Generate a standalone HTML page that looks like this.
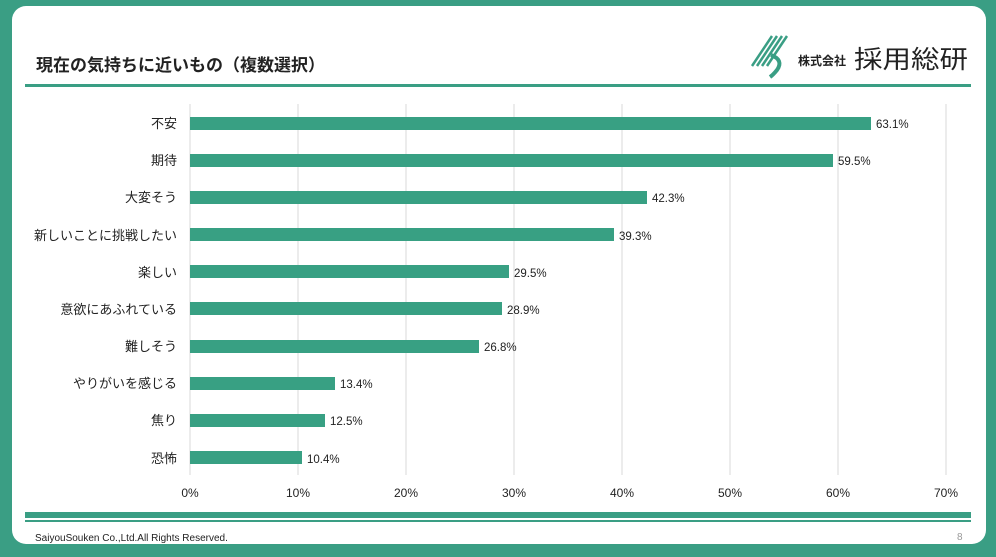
<!DOCTYPE html>
<html><head><meta charset="utf-8"><style>
body{margin:0;width:996px;height:557px;background:#3a9e84;overflow:hidden;font-family:"Liberation Sans","Noto Sans CJK JP",sans-serif;}
.card{position:absolute;left:12px;top:6px;width:974px;height:538px;background:#fff;border-radius:14px;}
</style></head><body>
<div class="card"></div>
<svg width="996" height="557" style="position:absolute;left:0;top:0" font-family="Liberation Sans, Noto Sans CJK JP, sans-serif">
<text x="36" y="71" font-size="17" font-weight="bold" fill="#222">現在の気持ちに近いもの（複数選択）</text>
<rect x="25" y="84" width="946" height="3" fill="#3a9e84"/>
<g stroke="#3a9e84" stroke-width="2.5">
<line x1="752" y1="66" x2="772" y2="36"/><line x1="757" y1="66" x2="777" y2="36"/><line x1="762" y1="66" x2="782" y2="36"/><line x1="767" y1="66" x2="787" y2="36"/>
</g>
<path d="M771 55 Q784 60 777 70 Q773 75 770 77" stroke="#3a9e84" stroke-width="4" fill="none"/>
<text x="798" y="65" font-size="12" font-weight="bold" fill="#222">株式会社</text>
<text x="854" y="68" font-size="25" fill="#222" textLength="114" lengthAdjust="spacingAndGlyphs">採用総研</text>
<g stroke="#d9d9d9" stroke-width="1">
<line x1="190" y1="104" x2="190" y2="475"/><line x1="298" y1="104" x2="298" y2="475"/><line x1="406" y1="104" x2="406" y2="475"/><line x1="514" y1="104" x2="514" y2="475"/><line x1="622" y1="104" x2="622" y2="475"/><line x1="730" y1="104" x2="730" y2="475"/><line x1="838" y1="104" x2="838" y2="475"/><line x1="946" y1="104" x2="946" y2="475"/>
</g>
<g fill="#38a083">
<rect x="190" y="117" width="681" height="13"/>
<rect x="190" y="154" width="643" height="13"/>
<rect x="190" y="191" width="457" height="13"/>
<rect x="190" y="228" width="424" height="13"/>
<rect x="190" y="265" width="319" height="13"/>
<rect x="190" y="302" width="312" height="13"/>
<rect x="190" y="340" width="289" height="13"/>
<rect x="190" y="377" width="145" height="13"/>
<rect x="190" y="414" width="135" height="13"/>
<rect x="190" y="451" width="112" height="13"/>
</g>
<g font-size="13" fill="#222" text-anchor="end">
<text x="177" y="128">不安</text><text x="177" y="165">期待</text><text x="177" y="202">大変そう</text><text x="177" y="240">新しいことに挑戦したい</text><text x="177" y="277">楽しい</text><text x="177" y="314">意欲にあふれている</text><text x="177" y="351">難しそう</text><text x="177" y="388">やりがいを感じる</text><text x="177" y="425">焦り</text><text x="177" y="463">恐怖</text>
</g>
<g font-size="11.5" fill="#222">
<text x="876" y="128">63.1%</text><text x="838" y="165">59.5%</text><text x="652" y="202">42.3%</text><text x="619" y="240">39.3%</text><text x="514" y="277">29.5%</text><text x="507" y="314">28.9%</text><text x="484" y="351">26.8%</text><text x="340" y="388">13.4%</text><text x="330" y="425">12.5%</text><text x="307" y="463">10.4%</text>
</g>
<g font-size="12" fill="#222" text-anchor="middle">
<text x="190" y="497">0%</text><text x="298" y="497">10%</text><text x="406" y="497">20%</text><text x="514" y="497">30%</text><text x="622" y="497">40%</text><text x="730" y="497">50%</text><text x="838" y="497">60%</text><text x="946" y="497">70%</text>
</g>
<rect x="25" y="512" width="946" height="6" fill="#3a9e84"/>
<rect x="25" y="520" width="946" height="2" fill="#3a9e84"/>
<text x="35" y="541" font-size="10" fill="#222">SaiyouSouken Co.,Ltd.All Rights Reserved.</text>
<text x="957" y="540" font-size="10" fill="#999">8</text>
</svg>
</body></html>
